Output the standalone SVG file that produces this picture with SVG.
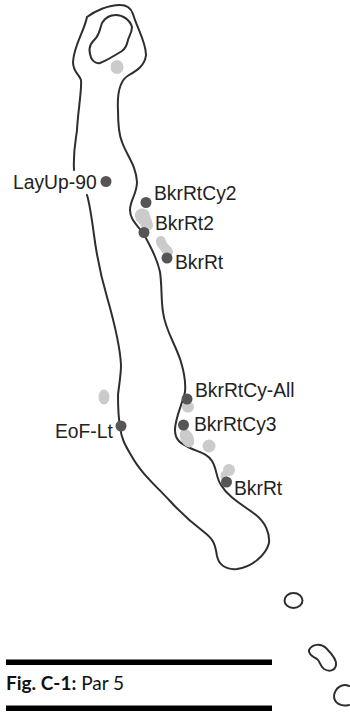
<svg xmlns="http://www.w3.org/2000/svg" width="350" height="713" viewBox="0 0 350 713">
<style>
.o{fill:none;stroke:#2e2e2e;stroke-width:2;stroke-linecap:round;stroke-linejoin:round}
.h{fill:#cbcbcb}
.d{fill:#555}
.l{font-family:"Liberation Sans",Arial,sans-serif;font-size:19.300px;fill:#222}
.c{font-family:"Lato","Open Sans",sans-serif;font-size:19px;fill:#111}
</style>
<rect width="350" height="713" fill="#fff"/>
<g id="fairway">
<path class="o" d="M74 170C73 150 76 140 77 130C78 110 82 90 81 80C79 74 73 72 73 62C74 45 84 32 87 17C95 11 108 5 120 5C127 5 131 8 133 14C137 28 146 42 146 55C145 66 136 71 129 75C120 80 117 92 118 110C118 125 119 135 122 142C127 156 136 165 137 182C137 194 130 200 130 210C130 220 138 226 143 233C150 245 157 258 160 272C162 285 161 300 163 312C165 330 176 345 181 362C184 372 186 382 185 392C182 405 175 418 175 430C175 441 182 444 190 448C198 452 207 453 212 461C217 469 216 478 221 485C228 497 243 505 256 515C265 522 270 533 269 543C266 555 252 567 237 569C226 570 219 565 217 556C215 543 213 539 204 532C192 523 181 513 170 501C155 485 140 472 131 455C125 445 121 438 120 426C118 415 118 405 118 395C119 385 121 375 121 365C120 345 115 325 107 297C102 280 97 258 94 235C92 220 90 205 87 195"/>
<path class="o" d="M102 23C105 18 110 15 116 15C123 15 130 20 132 27C132 33 129 36 128 40C127 45 125 49 122 51C115 55 108 60 100 63C95 64 91 60 90 54C88 46 92 42 96 38C100 33 100 28 102 23Z"/>
<ellipse class="o" cx="293.500" cy="600.500" rx="9" ry="7.500"/>
<path class="o" d="M309 650C312 644 321 643 326 648C332 654 337 660 336 665C335 671 329 672 324 669C320 666 320 661 317 659C313 657 308 654 309 650Z"/>
<path class="o" d="M349 686C342 683 335 688 334 696C334 703 341 707 349 705"/>
</g>
<g id="hazes">
<ellipse class="h" cx="117" cy="67" rx="6.500" ry="7"/>
<path class="h" d="M135 214C137 207 146 207 149 212C150 218 153 221 153 226C152 231 146 232 142 228C140 222 134 221 135 214Z"/>
<path class="h" d="M156 240C158 234 165 235 166 241C167 245 173 247 173 252C172 258 165 259 163 254C161 249 155 246 156 240Z"/>
<ellipse class="h" cx="104" cy="397" rx="5.500" ry="7.500"/>
<ellipse class="h" cx="188" cy="407" rx="6" ry="5.500"/>
<ellipse class="h" cx="187" cy="438" rx="6.500" ry="10" transform="rotate(-25 187 438)"/>
<circle class="h" cx="209" cy="446" r="6.500"/>
<circle class="h" cx="229" cy="470" r="6"/>
<ellipse class="h" cx="224" cy="476" rx="3.500" ry="5"/>
</g>
<g id="layup-90"><circle class="d" cx="106" cy="181.500" r="5.500"/><text class="l" x="13" y="189">LayUp-90</text></g>
<g id="bkrrtcy2"><circle class="d" cx="146" cy="202.500" r="5.500"/><text class="l" x="154" y="200">BkrRtCy2</text></g>
<g id="bkrrt2"><circle class="d" cx="144" cy="232.500" r="5.500"/><text class="l" x="155" y="230">BkrRt2</text></g>
<g id="bkrrt-a"><circle class="d" cx="167" cy="258" r="5.500"/><text class="l" x="175" y="269">BkrRt</text></g>
<g id="bkrrtcy-all"><circle class="d" cx="187" cy="399" r="5.500"/><text class="l" x="195" y="397">BkrRtCy-All</text></g>
<g id="bkrrtcy3"><circle class="d" cx="183.500" cy="425" r="5.500"/><text class="l" x="194" y="431">BkrRtCy3</text></g>
<g id="eof-lt"><circle class="d" cx="121" cy="426" r="5.500"/><text class="l" x="55" y="438">EoF-Lt</text></g>
<g id="bkrrt-b"><circle class="d" cx="226.500" cy="482" r="5.500"/><text class="l" x="234" y="495">BkrRt</text></g>
<g id="caption">
<rect x="6" y="659.500" width="266" height="5.500"/>
<rect x="6" y="705.500" width="266" height="5.500"/>
<text class="c" x="6" y="690"><tspan font-weight="700">Fig. C-1:</tspan> Par 5</text>
</g>
</svg>
